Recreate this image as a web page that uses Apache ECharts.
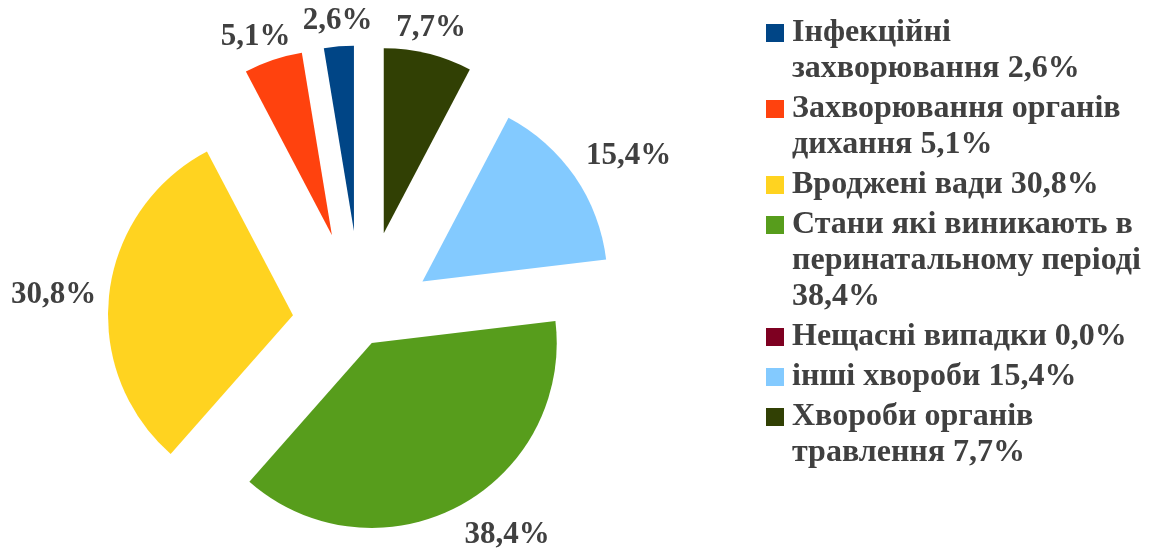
<!DOCTYPE html>
<html>
<head>
<meta charset="utf-8">
<script src="https://cdn.jsdelivr.net/npm/echarts@6/dist/echarts.min.js"></script>
<style>
  html, body { margin: 0; padding: 0; background: #ffffff; }
  #chart { width: 1151px; height: 553px; }
</style>
</head>
<body>
<div id="chart"></div>
<script>
// legend text, with the line breaks used in the picture
const legendLines = [
  "Інфекційні\nзахворювання",
  "Захворювання органів\nдихання",
  "Вроджені вади",
  "Стани які виникають в\nперинатальному періоді\n",
  "Нещасні випадки",
  "інші хвороби",
  "Хвороби органів\nтравлення"
];
const names = legendLines.map(s => s.replace(/\n/g, " ").trim());
const values = [2.6, 5.1, 30.8, 38.4, 0.0, 15.4, 7.7];
const colors = ["#004586", "#ff420e", "#ffd320", "#579d1c", "#7e0021", "#83caff", "#314004"];

// styling: how far each slice is pulled out, label distance past the rim, label nudge
const explode = [93, 93, 69, 22, 0, 74, 93];
const labelGap = [27, 30, 55, 48, 0, 57, 29];
const labelNudge = [[1, 1], [-8, 5], [-1, 8], [27, -14], [0, 0], [7, 12], [-4, 3]];

const textColor = "#404040";
const font = "Liberation Serif";

function pct(v) {
  return v.toFixed(1).replace(".", ",") + "%";
}

const rich = {
  s: { width: 18, height: 18 },
  t: {
    fontFamily: font,
    fontWeight: "bold",
    fontSize: 32,
    lineHeight: 36,
    color: textColor,
    padding: [0, 0, 0, 8]
  }
};
colors.forEach((c, i) => {
  rich["c" + i] = { width: 18, height: 18, backgroundColor: c };
});

function sliceSeries(k) {
  return {
    type: "pie",
    center: [361.5, 323.5],
    radius: 185,
    startAngle: 90,
    clockwise: false,
    selectedMode: "multiple",
    selectedOffset: explode[k],
    avoidLabelOverlap: false,
    minShowLabelAngle: 0,
    silent: true,
    emphasis: { disabled: true },
    itemStyle: { borderWidth: 0 },
    label: {
      position: "outside",
      fontFamily: font,
      fontWeight: "bold",
      fontSize: 31,
      color: textColor,
      distanceToLabelLine: 0,
      formatter: p => pct(p.value)
    },
    labelLine: { show: false, length: labelGap[k], length2: 0 },
    labelLayout: {
      hideOverlap: false,
      align: "center",
      verticalAlign: "middle",
      dx: labelNudge[k][0],
      dy: labelNudge[k][1]
    },
    data: names.map((name, i) => ({
      name: name,
      value: values[i],
      selected: i === k,
      itemStyle: { color: i === k ? colors[i] : "transparent" },
      label: { show: i === k && values[i] > 0 }
    }))
  };
}

const chart = echarts.init(document.getElementById("chart"));

chart.setOption({
  backgroundColor: "#ffffff",
  animation: false,
  legend: {
    orient: "vertical",
    left: 761,
    top: 15,
    padding: 0,
    itemGap: 4,
    icon: "none",
    itemWidth: 0,
    itemHeight: 0,
    selectedMode: false,
    data: names,
    formatter: function (name) {
      const i = names.indexOf(name);
      const sep = legendLines[i].endsWith("\n") ? "" : " ";
      const lines = (legendLines[i] + sep + pct(values[i])).split("\n");
      return lines
        .map((ln, j) => (j === 0 ? "{c" + i + "|}" : "{s|}") + "{t|" + ln + "}")
        .join("\n");
    },
    textStyle: {
      fontFamily: font,
      fontWeight: "bold",
      fontSize: 32,
      lineHeight: 36,
      color: textColor,
      rich: rich
    }
  },
  // one pie per slice so each slice can be pulled out by its own amount
  series: values.map((_, k) => sliceSeries(k))
});
</script>
</body>
</html>
